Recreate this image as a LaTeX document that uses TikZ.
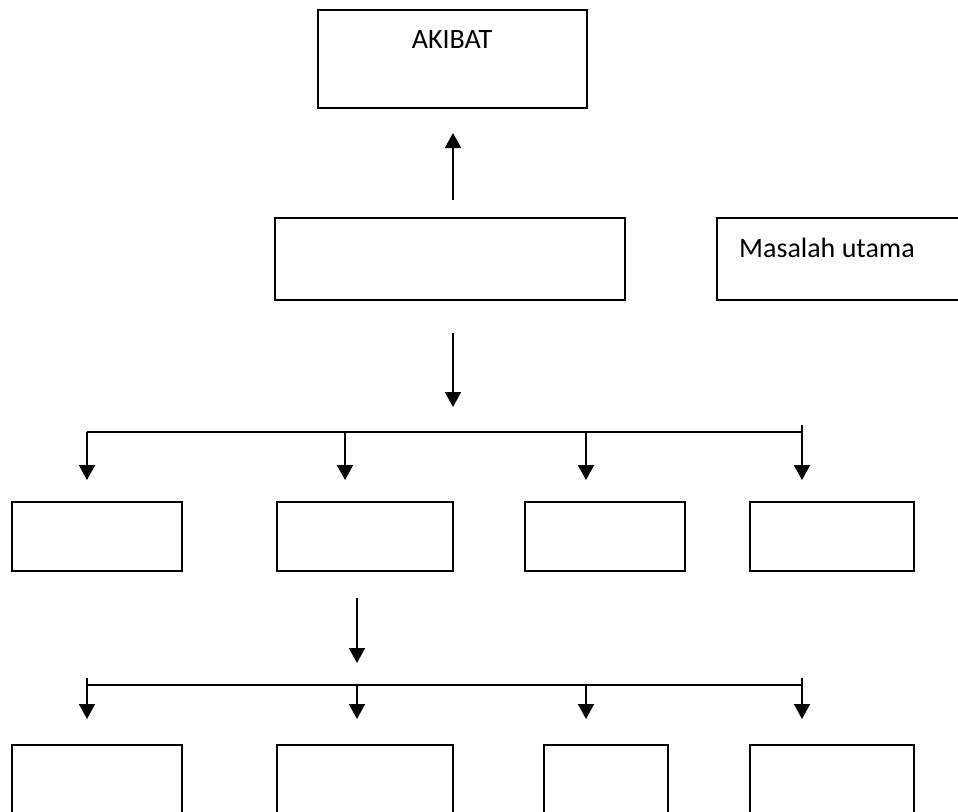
\documentclass[tikz,border=0pt]{standalone}
\usepackage{fontspec}
\setmainfont{Carlito}
\usetikzlibrary{arrows.meta,positioning}

\tikzset{
	kotak/.style={draw, line width=1.4pt, inner sep=0pt},
	panah/.style={line width=2pt, -{Triangle[length=15pt,width=16pt]}},
	garis/.style={line width=2pt},
	tulisan/.style={inner sep=0pt, font=\fontsize{28}{34}\selectfont}
}

\begin{document}
\begin{tikzpicture}[x=1pt, y=-1pt]
	\useasboundingbox (0,0) rectangle (958,811);

	% kotak paling atas
	\node[kotak, minimum width=269pt, minimum height=98pt] (akibat) at (452.5,59) {};
	\node[tulisan, anchor=base] (judul) at (452,48) {AKIBAT};

	% masalah utama
	\node[kotak, minimum width=350pt, minimum height=82pt] (masalah) at (450,259) {};
	\node[kotak, minimum width=253pt, minimum height=82pt] (utama) at (843.5,259) {};
	\node[tulisan, anchor=base west] (ket) at (739,257) {Masalah utama};

	\coordinate (naik1) at (453,200);
	\coordinate (naik2) at (453,133);
	\draw[panah] (naik1) -- (naik2);

	\coordinate (turun1) at (453,333);
	\coordinate (turun2) at (453,407);
	\draw[panah] (turun1) -- (turun2);

	% baris kedua
	\foreach \x/\w/\n in {97/170/a,365/176/b,605/160/c,832/164/d}
		\node[kotak, minimum width=\w pt, minimum height=69pt] (sebab\n) at (\x,536.5) {};

	\coordinate (kiri1) at (87,432);
	\coordinate (kanan1) at (802,432);
	\coordinate (tanda1) at (802,425);
	\draw[garis] (kiri1) -- (kanan1);

	\foreach \x/\n in {87/a,345/b,586/c,802/d}{
		\coordinate (pangkal\n) at (\x,432);
		\coordinate (ujung\n) at (\x,480);
		\draw[panah] (pangkal\n) -- (ujung\n);
	}
	\draw[garis] (tanda1) -- (kanan1);

	\coordinate (turun3) at (357,598);
	\coordinate (turun4) at (357,663);
	\draw[panah] (turun3) -- (turun4);

	% baris ketiga
	\foreach \x/\w/\n in {97/170/a,365/176/b,606/124/c,832/164/d}
		\node[kotak, minimum width=\w pt, minimum height=90pt] (akar\n) at (\x,790) {};

	\coordinate (kiri2) at (87,685);
	\coordinate (kanan2) at (802,685);
	\draw[garis] (kiri2) -- (kanan2);

	\foreach \x/\n in {87/a,357/b,586/c,802/d}{
		\coordinate (awal\n) at (\x,685);
		\coordinate (akhir\n) at (\x,719);
		\draw[panah] (awal\n) -- (akhir\n);
	}
	\draw[garis] (87,678) -- (kiri2);
	\draw[garis] (802,678) -- (kanan2);
\end{tikzpicture}
\end{document}
